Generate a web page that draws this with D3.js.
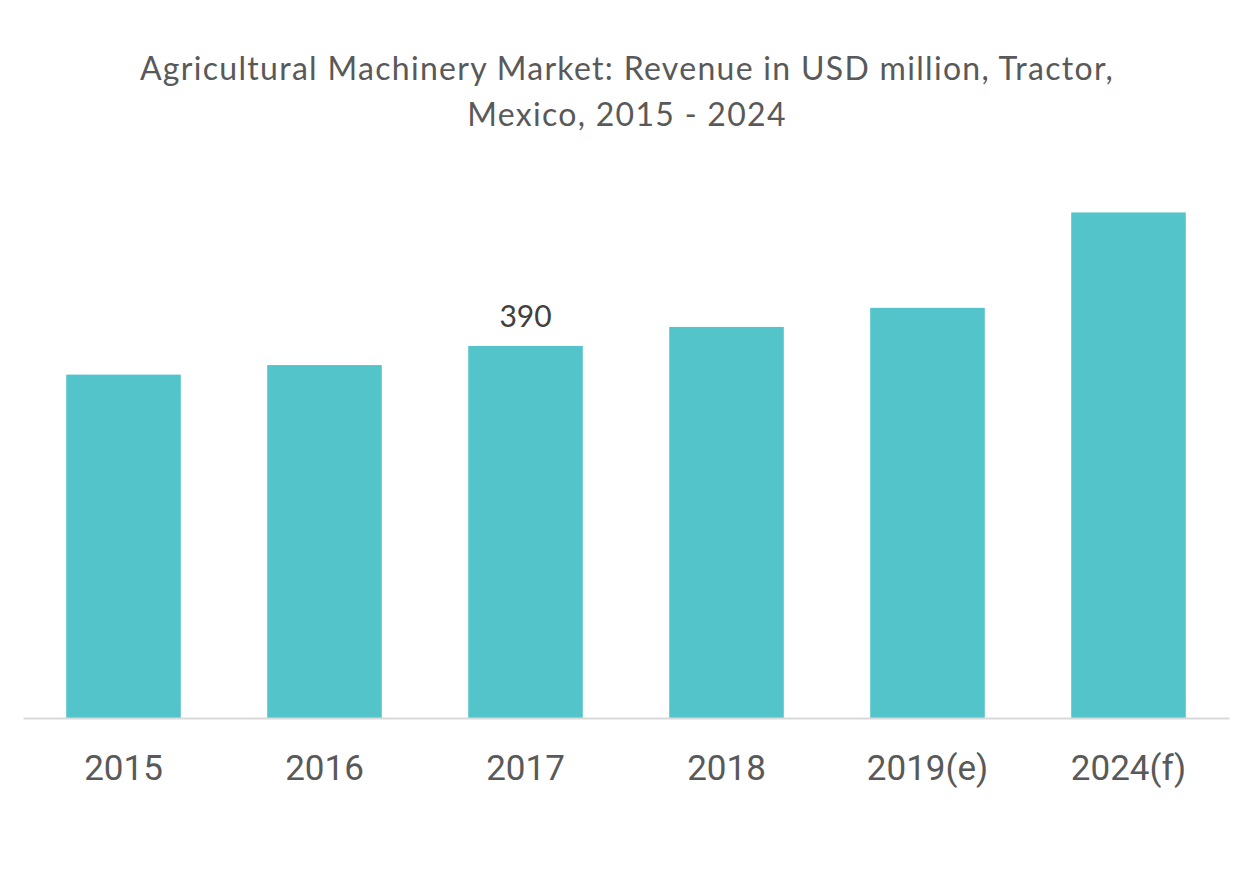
<!DOCTYPE html>
<html>
<head>
<meta charset="utf-8">
<script src="https://cdn.jsdelivr.net/npm/d3@7"></script>
<style>
  body { margin: 0; background: #fff; }
  svg { display: block; }
</style>
</head>
<body>
<svg id="chart" width="1253" height="878"></svg>
<script>
const categories = ["2015", "2016", "2017", "2018", "2019(e)", "2024(f)"];
const values = [360, 370, 390, 410, 430, 530];
const labelShown = [false, false, true, false, false, false];
const titleLines = ["Agricultural Machinery Market: Revenue in USD million, Tractor,", "Mexico, 2015 - 2024"];

(function () {
const svg = d3.select("#chart");
const plotLeft = 23, plotRight = 1229, baseline = 718, refTop = 346;

const data = categories.map((c, i) => ({ cat: c, val: values[i], show: labelShown[i] }));

const x = d3.scaleBand().domain(categories).range([plotLeft, plotRight]).paddingInner(0.43).paddingOuter(0.215);
const y = d3.scaleLinear().domain([0, 390]).range([baseline, refTop]);

svg.append("g").selectAll("text").data(titleLines).join("text")
  .attr("x", 627).attr("y", (d, i) => 80 + i * 46)
  .attr("text-anchor", "middle")
  .attr("font-family", "Lato, sans-serif").attr("font-size", 32)
  .attr("letter-spacing", 1.3)
  .attr("fill", "#595959").text(d => d);

svg.append("g").selectAll("rect").data(data).join("rect")
  .attr("x", d => x(d.cat))
  .attr("width", x.bandwidth())
  .attr("y", d => y(d.val))
  .attr("height", d => baseline - y(d.val))
  .attr("fill", "#52C4CA");

svg.append("g").selectAll("text").data(data.filter(d => d.show)).join("text")
  .attr("x", d => x(d.cat) + x.bandwidth() / 2)
  .attr("y", d => y(d.val) - 19)
  .attr("text-anchor", "middle")
  .attr("font-family", "Lato, sans-serif").attr("font-size", 30)
  .attr("fill", "#404040").text(d => d.val);

const axis = d3.axisBottom(x).tickSize(0).tickPadding(37);
const g = svg.append("g").attr("transform", `translate(0,${baseline})`).call(axis);
g.select(".domain").attr("stroke", "#d9d9d9").attr("stroke-width", 2);
g.selectAll("text").attr("font-family", "Roboto, sans-serif").attr("font-size", 35).attr("fill", "#595959");
})();
</script>
</body>
</html>
